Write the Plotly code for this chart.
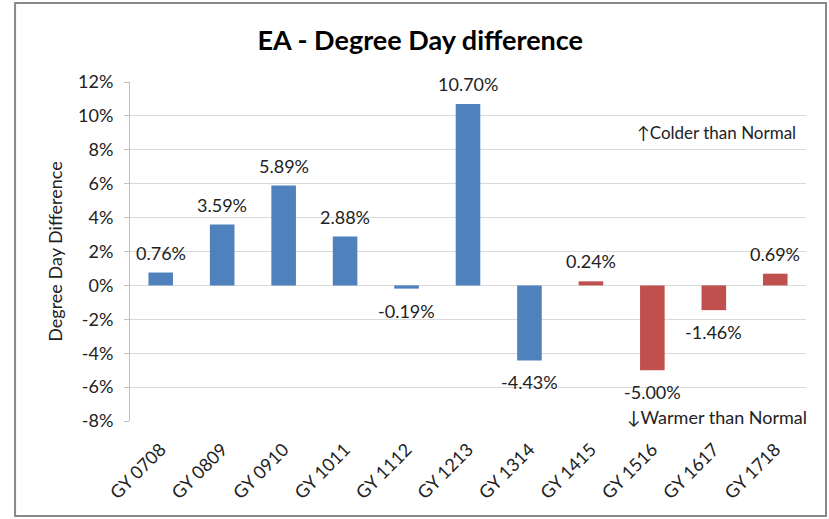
import plotly.graph_objects as go

years = ["GY 0708", "GY 0809", "GY 0910", "GY 1011", "GY 1112", "GY 1213",
         "GY 1314", "GY 1415", "GY 1516", "GY 1617", "GY 1718"]
diff_pct = [0.76, 3.59, 5.89, 2.88, -0.19, 10.70, -4.43, 0.24, -5.00, -1.46, 0.69]
bar_colors = ["#4F81BD"] * 7 + ["#C0504D"] * 4

y_ticks = [-8, -6, -4, -2, 0, 2, 4, 6, 8, 10, 12]
y_tick_labels = [f"{t}%" for t in y_ticks]

font_name = "Lato, Open Sans, sans-serif"

fig = go.Figure()
fig.add_trace(go.Bar(
    x=years,
    y=[v / 100 for v in diff_pct],
    marker=dict(color=bar_colors, line=dict(width=0)),
    width=0.4,
    hoverinfo="x+y",
))

# data labels, placed above positive bars and below negative ones
for yr, v in zip(years, diff_pct):
    fig.add_annotation(x=yr, y=v / 100, text=f"{v:.2f}%", showarrow=False,
                       yanchor="middle", yshift=20 if v >= 0 else -22,
                       font=dict(size=18, color="#222222"))

fig.update_layout(
    width=829,
    height=519,
    plot_bgcolor="white",
    paper_bgcolor="white",
    font=dict(family=font_name, size=18, color="#222222"),
    margin=dict(l=130, r=23, t=82, b=98, autoexpand=False),
    showlegend=False,
    title=dict(text="<b>EA - Degree Day difference</b>", x=0.507, xanchor="center",
               y=0.922, yanchor="middle", font=dict(size=27, color="black")),
)

fig.update_yaxes(
    range=[-0.08, 0.12],
    tickvals=[t / 100 for t in y_ticks],
    ticktext=y_tick_labels,
    showgrid=True,
    gridcolor="#D9D9D9",
    gridwidth=1,
    zeroline=False,
    showline=True,
    linecolor="#BFBFBF",
    ticks="outside",
    ticklen=5,
    tickcolor="#BFBFBF",
    ticklabelstandoff=7,
    tickfont=dict(size=18),
    automargin=False,
    title=dict(text="Degree Day Difference", font=dict(size=18), standoff=10),
)
fig.update_xaxes(
    tickangle=-45,
    showgrid=False,
    showline=False,
    ticks="outside",
    ticklen=10,
    tickcolor="rgba(0,0,0,0)",
    automargin=False,
    tickfont=dict(size=18),
)

fig.add_annotation(text="↑Colder than Normal", xref="paper", yref="y",
                   x=0.988, y=0.0905, xanchor="right", yanchor="middle",
                   showarrow=False, font=dict(size=17))
fig.add_annotation(text="↓Warmer than Normal", xref="paper", yref="y",
                   x=1.005, y=-0.0775, xanchor="right", yanchor="middle",
                   showarrow=False, font=dict(size=18))

# outer chart frame
fig.add_shape(type="rect", xref="paper", yref="paper",
              x0=-0.170, x1=1.0296, y0=-0.280, y1=1.233,
              line=dict(color="#888888", width=2))

# drop the default 8px page margin so the figure sits at the window corner
fig.write_html("out.html", config={"displayModeBar": False},
               post_script="document.body.style.margin='0';")
